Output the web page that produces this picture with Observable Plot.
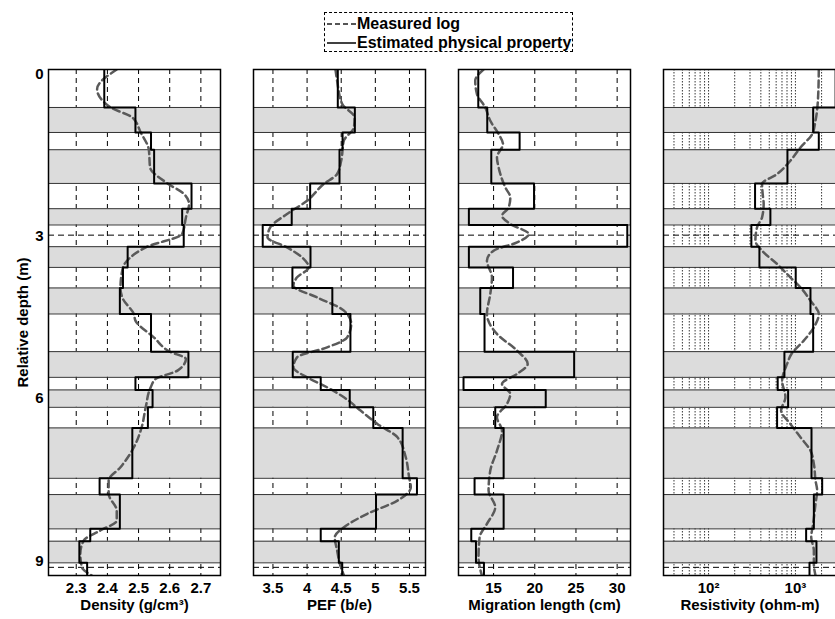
<!DOCTYPE html>
<html><head><meta charset="utf-8">
<script src="https://cdn.jsdelivr.net/npm/d3@7"></script>
<script src="https://cdn.jsdelivr.net/npm/@observablehq/plot@0.6"></script>
<style>
body{margin:0;background:#fff}
#c{position:relative;width:835px;height:619px;overflow:hidden;background:#fff;font-family:"Liberation Sans",Arial,sans-serif}
.p{position:absolute;top:60px}
#legend{position:absolute;left:324px;top:12px;width:249px;height:40px;border:1px dashed #000;font-weight:bold;font-size:16px;color:#000;box-sizing:border-box}
#legend .row{position:absolute;left:2px;height:19px;display:flex;align-items:center;white-space:nowrap}
#legend svg{margin-right:1px}
</style></head>
<body><div id="c">
<div id="legend">
 <div class="row" style="top:1px"><svg width="29" height="6"><line x1="0" y1="3" x2="29" y2="3" stroke="#555" stroke-width="2" stroke-dasharray="5,3"/></svg><span>Measured log</span></div>
 <div class="row" style="top:20px"><svg width="29" height="6"><line x1="0" y1="3" x2="29" y2="3" stroke="#000" stroke-width="1.5"/></svg><span>Estimated physical property</span></div>
</div>
</div>
<script>
// ---- layer structure (depth, m) ----
const layerBounds = [-0.082, 0.62, 1.082, 1.401, 2.024, 2.491, 2.792, 3.193, 3.576, 3.956, 4.437, 5.133, 5.608, 5.841, 6.162, 6.543, 7.474, 7.775, 8.409, 8.637, 9.037, 9.271];
const markerDepths = [2.98, 9.12];
const depthTicks = [0, 3, 6, 9];

// ---- estimated physical property per layer ----
const densityEst = [2.39, 2.49, 2.54, 2.55, 2.67, 2.64, 2.645, 2.465, 2.45, 2.44, 2.54, 2.66, 2.49, 2.545, 2.53, 2.48, 2.375, 2.44, 2.345, 2.31, 2.335];
const pefEst = [4.45, 4.70, 4.52, 4.475, 4.045, 3.775, 3.35, 4.05, 3.785, 4.37, 4.635, 3.79, 4.2, 4.625, 4.97, 5.40, 5.61, 5.01, 4.2, 4.465, 4.515];
const migrationEst = [13.14, 14.23, 18.16, 14.72, 19.91, 12.0, 31.23, 12.0, 17.36, 13.38, 13.9, 24.78, 11.35, 21.33, 15.2, 16.22, 12.69, 16.22, 12.29, 12.86, 13.83];
const resistivityEst = [2900, 1600, 1858, 809, 343, 515, 311, 385, 1008, 1490, 1600, 747, 625, 824, 615, 1531, 2032, 1630, 1328, 1746, 1452];

// ---- measured logs ----
const densityLogDepth = [-0.082, 0.28, 0.62, 0.805, 1.082, 1.401, 1.728, 2.024, 2.22, 2.404, 2.652, 2.959, 3.193, 3.391, 3.576, 3.956, 4.159, 4.437, 4.56, 4.869, 5.133, 5.268, 5.484, 5.637, 5.793, 6.162, 6.531, 6.901, 7.27, 7.516, 7.762, 8.071, 8.255, 8.44, 8.625, 8.87, 9.118, 9.271];
const densityLog = [2.43, 2.367, 2.411, 2.48, 2.507, 2.533, 2.537, 2.593, 2.646, 2.662, 2.652, 2.64, 2.528, 2.474, 2.45, 2.442, 2.45, 2.485, 2.49, 2.549, 2.6, 2.652, 2.625, 2.555, 2.539, 2.523, 2.51, 2.485, 2.442, 2.404, 2.404, 2.43, 2.43, 2.377, 2.324, 2.313, 2.318, 2.35];

const pefLogDepth = [-0.082, 0.127, 0.557, 0.805, 0.989, 1.235, 1.604, 1.85, 2.035, 2.343, 2.589, 2.837, 3.021, 3.206, 3.391, 3.576, 3.76, 3.914, 4.13, 4.376, 4.621, 4.869, 5.054, 5.238, 5.423, 5.608, 5.793, 5.977, 6.223, 6.469, 6.716, 7.086, 7.455, 7.64, 7.886, 8.131, 8.379, 8.564, 8.81, 9.055, 9.271];
const pefLog = [4.416, 4.44, 4.515, 4.696, 4.686, 4.538, 4.5, 4.44, 4.244, 4.0, 3.706, 3.46, 3.42, 3.706, 3.927, 4.024, 3.853, 3.80, 4.147, 4.54, 4.647, 4.588, 4.294, 3.853, 3.80, 4.0, 4.294, 4.54, 4.784, 5.03, 5.324, 5.446, 5.495, 5.52, 5.324, 4.882, 4.54, 4.406, 4.44, 4.48, 4.54];

const migrationLogDepth = [-0.082, 0.127, 0.372, 0.62, 0.866, 1.111, 1.296, 1.544, 1.728, 2.098, 2.282, 2.467, 2.621, 2.774, 2.959, 3.114, 3.267, 3.452, 3.76, 4.067, 4.437, 4.806, 5.114, 5.36, 5.545, 5.73, 5.914, 6.099, 6.347, 6.592, 6.962, 7.331, 7.7, 8.009, 8.316, 8.564, 8.933, 9.271];
const migrationLog = [13.78, 12.77, 12.98, 13.99, 14.6, 15.61, 16.14, 15.41, 15.61, 16.42, 17.03, 16.83, 16.02, 17.03, 19.26, 17.85, 15.0, 14.19, 14.8, 14.6, 14.19, 15.41, 17.85, 19.14, 17.85, 16.02, 17.03, 16.63, 15.41, 16.02, 15.41, 14.6, 14.39, 15.2, 14.19, 13.3, 13.17, 13.58];

const resistivityLogDepth = [-0.082, 0.372, 0.866, 1.111, 1.359, 1.604, 1.85, 2.035, 2.22, 2.404, 2.652, 2.837, 3.082, 3.267, 3.513, 3.76, 3.945, 4.191, 4.437, 4.684, 4.93, 5.176, 5.36, 5.669, 5.977, 6.223, 6.469, 6.716, 6.962, 7.208, 7.516, 7.7, 7.947, 8.316, 8.564, 8.81, 9.055, 9.271];
const resistivityLog = [1858, 1830, 1702, 1560, 1143, 875, 615, 413, 420, 431, 413, 361, 346, 413, 615, 875, 1143, 1490, 1858, 1630, 1247, 900, 802, 703, 767, 684, 875, 1143, 1490, 1630, 1702, 1778, 1702, 1600, 1520, 1630, 1630, 1702];

// ---- axes ----
const densityTicks = [2.3, 2.4, 2.5, 2.6, 2.7];
const pefTicks = [3.5, 4, 4.5, 5, 5.5];
const migrationTicks = [15, 20, 25, 30];
const resistivityTicks = [100, 1000];
const resistivityGrid = [40, 50, 60, 70, 80, 90, 100, 200, 300, 400, 500, 600, 700, 800, 900, 1000, 2000];
const sup = {"2": "\u00B2", "3": "\u00B3"};

function panel(o) {
  const stepPts = o.est.flatMap((v, i) => [{v, d: layerBounds[i]}, {v, d: layerBounds[i + 1]}]);
  const bands = o.est.map((v, i) => ({i, d1: layerBounds[i], d2: layerBounds[i + 1]})).filter(b => b.i % 2 === 1);
  const logPts = o.logD.map((d, i) => ({d, v: o.logV[i]}));
  const marks = [
    Plot.ruleX(o.grid, {stroke: o.gridColor, strokeWidth: o.gridWidth, strokeDasharray: o.gridDash}),
    Plot.rect(bands, {y1: "d1", y2: "d2", fill: "#dcdcdc"}),
    Plot.ruleY(layerBounds, {stroke: "#333", strokeWidth: 1}),
    Plot.ruleY(markerDepths, {stroke: "#000", strokeWidth: 1, strokeDasharray: "6,4"}),
    Plot.line(logPts, {x: "v", y: "d", curve: "monotone-y", stroke: "#5a5a5a", strokeWidth: 2.5, strokeDasharray: "7,4", clip: true}),
    Plot.line(stepPts, {x: "v", y: "d", stroke: "#000", strokeWidth: 2, clip: true}),
    Plot.frame({stroke: "#000", strokeWidth: 1.5}),
    Plot.axisX(o.ticks, {tickSize: 0, tickPadding: 7, tickFormat: o.tickFormat, label: o.label, labelAnchor: "center", labelOffset: 34, labelArrow: false})
  ];
  if (o.yAxis) marks.push(Plot.axisY(depthTicks, {tickSize: 0, tickPadding: 5, tickFormat: d => String(d), label: "Relative depth (m)", labelAnchor: "center", labelOffset: 31, labelArrow: false}));
  const chart = Plot.plot({
    width: o.width, height: 559,
    marginLeft: o.mL, marginRight: o.mR, marginTop: 9, marginBottom: 44,
    x: {type: o.xType || "linear", domain: o.xDomain},
    y: {domain: [layerBounds[0], layerBounds[layerBounds.length - 1]], reverse: true, axis: o.yAxis ? undefined : null},
    style: {fontFamily: "'Liberation Sans', Arial, sans-serif", fontSize: "15px", fontWeight: "bold", color: "#000", background: "transparent", overflow: "visible"},
    marks
  });
  chart.classList.add("p");
  chart.style.left = o.left + "px";
  document.getElementById("c").appendChild(chart);
}

panel({left: 0, width: 224, mL: 48, mR: 4, xDomain: [2.211, 2.763], ticks: densityTicks, tickFormat: d => d.toFixed(1),
  grid: densityTicks, gridDash: "5,4", gridColor: "#000", gridWidth: 1, est: densityEst, logD: densityLogDepth, logV: densityLog,
  label: "Density (g/cm\u00B3)", yAxis: true});
panel({left: 228, width: 201, mL: 25, mR: 4, xDomain: [3.215, 5.735], ticks: pefTicks, tickFormat: d => String(d),
  grid: pefTicks, gridDash: "5,4", gridColor: "#000", gridWidth: 1, est: pefEst, logD: pefLogDepth, logV: pefLog,
  label: "PEF (b/e)"});
panel({left: 433, width: 201, mL: 25, mR: 4, xDomain: [10.74, 31.62], ticks: migrationTicks, tickFormat: d => String(d),
  grid: migrationTicks, gridDash: "5,4", gridColor: "#000", gridWidth: 1, est: migrationEst, logD: migrationLogDepth, logV: migrationLog,
  label: "Migration length (cm)"});
panel({left: 638, width: 200, mL: 25, mR: 2, xType: "log", xDomain: [30.3, 2970], ticks: resistivityTicks,
  tickFormat: d => "10" + sup[String(Math.round(Math.log10(d)))],
  grid: resistivityGrid, gridDash: "1.5,1.5", gridColor: "#222", gridWidth: 0.9, est: resistivityEst, logD: resistivityLogDepth, logV: resistivityLog,
  label: "Resistivity (ohm-m)"});
</script>
</body></html>
